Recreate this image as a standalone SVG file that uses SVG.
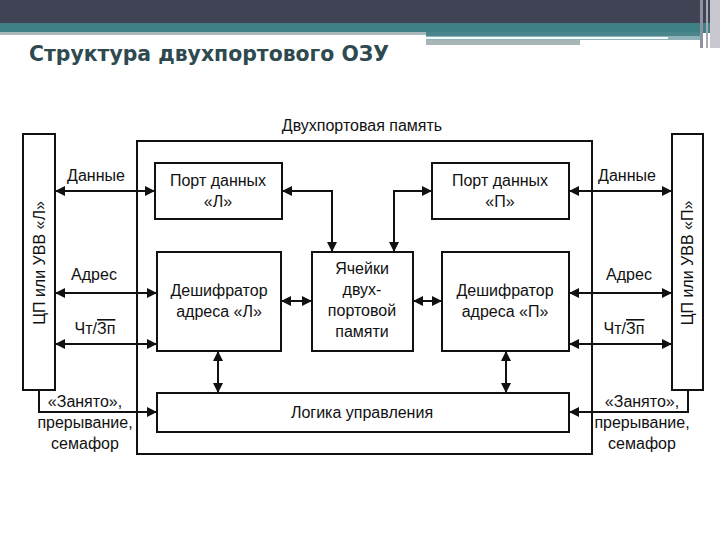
<svg xmlns="http://www.w3.org/2000/svg" width="720" height="540" viewBox="0 0 720 540">
<defs>
<marker id="ah" viewBox="0 0 10 10" refX="10" refY="5" markerWidth="11" markerHeight="10" markerUnits="userSpaceOnUse" orient="auto-start-reverse">
<path d="M0,0 L10,5 L0,10 Z" fill="#111"/>
</marker>
<style>
.box{fill:#fff;stroke:#111;stroke-width:2}
.t{font-family:"Liberation Sans",Arial,sans-serif;font-size:16px;fill:#111;text-anchor:middle}
.c{fill:none;stroke:#111;stroke-width:2}
.d{marker-start:url(#ah);marker-end:url(#ah)}
.e{marker-end:url(#ah)}
</style>
</defs>
<rect width="720" height="540" fill="#fff"/>
<!-- header -->
<g id="header">
<rect x="0" y="0" width="720" height="23" fill="#3f4354"/>
<rect x="0" y="23" width="712" height="10" fill="#3f7f86"/>
<rect x="0" y="32" width="426" height="3" fill="#a9b9bd"/>
<rect x="426" y="32" width="276" height="4" fill="#4a868c"/>
<rect x="426" y="36" width="276" height="4" fill="#8fb3b8"/>
<rect x="426" y="37" width="242" height="2" fill="#f4f8f8"/>
<rect x="426" y="40" width="154" height="5" fill="#a7b5b7"/>
<rect x="700" y="0" width="3" height="48" fill="#8e929e"/>
<rect x="706" y="0" width="2" height="48" fill="#a5a9b3"/>
<rect x="710" y="0" width="10" height="48" fill="#c9c8d0"/>
<text x="29" y="61" font-family="'DejaVu Sans','Liberation Sans',sans-serif" font-weight="bold" font-size="21" fill="#2e4a50" textLength="360" lengthAdjust="spacingAndGlyphs">Структура двухпортового ОЗУ</text>
</g>
<!-- nodes -->
<g id="cpuL">
<rect class="box" x="23" y="134" width="32" height="256"/>
<text class="t" transform="translate(45,263) rotate(-90)">ЦП или УВВ «Л»</text>
</g>
<g id="cpuR">
<rect class="box" x="672" y="134" width="31" height="256"/>
<text class="t" transform="translate(693,263) rotate(-90)">ЦП или УВВ «П»</text>
</g>
<g id="memory">
<rect class="box" x="137" y="141" width="455" height="313"/>
<text class="t" x="362" y="131">Двухпортовая память</text>
</g>
<g id="portL">
<rect class="box" x="155" y="163" width="127" height="56"/>
<text class="t" x="218" y="186">Порт данных</text>
<text class="t" x="218" y="207">«Л»</text>
</g>
<g id="portR">
<rect class="box" x="432" y="163" width="137" height="56"/>
<text class="t" x="500" y="186">Порт данных</text>
<text class="t" x="500" y="207">«П»</text>
</g>
<g id="decL">
<rect class="box" x="157" y="252" width="124" height="99"/>
<text class="t" x="219" y="296">Дешифратор</text>
<text class="t" x="219" y="317">адреса «Л»</text>
</g>
<g id="cells">
<rect class="box" x="312" y="252" width="101" height="99"/>
<text class="t" x="362" y="274">Ячейки</text>
<text class="t" x="362" y="295">двух-</text>
<text class="t" x="362" y="316">портовой</text>
<text class="t" x="362" y="337">памяти</text>
</g>
<g id="decR">
<rect class="box" x="442" y="252" width="127" height="99"/>
<text class="t" x="505" y="296">Дешифратор</text>
<text class="t" x="505" y="317">адреса «П»</text>
</g>
<g id="logic">
<rect class="box" x="157" y="393" width="412" height="39"/>
<text class="t" x="362" y="418">Логика управления</text>
</g>
<!-- connectors -->
<g id="connectors">
<line class="c d" x1="55" y1="191" x2="155" y2="191"/>
<line class="c d" x1="55" y1="293" x2="157" y2="293"/>
<line class="c d" x1="55" y1="344" x2="157" y2="344"/>
<polyline class="c e" points="39,390 39,412 157,412"/>
<line class="c d" x1="218" y1="351" x2="218" y2="393"/>
<line class="c d" x1="506" y1="351" x2="506" y2="393"/>
<polyline class="c d" points="282,191 332,191 332,252"/>
<polyline class="c d" points="394,252 394,191 432,191"/>
<line class="c d" x1="281" y1="301" x2="312" y2="301"/>
<line class="c d" x1="413" y1="301" x2="442" y2="301"/>
<line class="c d" x1="569" y1="191" x2="672" y2="191"/>
<line class="c d" x1="569" y1="293" x2="672" y2="293"/>
<line class="c d" x1="569" y1="344" x2="672" y2="344"/>
<polyline class="c e" points="688,390 688,412 569,412"/>
</g>
<g id="labels">
<text class="t" x="96" y="181">Данные</text>
<text class="t" x="94" y="280">Адрес</text>
<text class="t" x="95" y="334">Чт/<tspan text-decoration="overline">Зп</tspan></text>
<text class="t" x="85" y="407">«Занято»,</text>
<text class="t" x="85" y="428">прерывание,</text>
<text class="t" x="85" y="449">семафор</text>
<text class="t" x="627" y="181">Данные</text>
<text class="t" x="629" y="280">Адрес</text>
<text class="t" x="624" y="334">Чт/<tspan text-decoration="overline">Зп</tspan></text>
<text class="t" x="642" y="407">«Занято»,</text>
<text class="t" x="642" y="428">прерывание,</text>
<text class="t" x="642" y="449">семафор</text>
</g>
</svg>
